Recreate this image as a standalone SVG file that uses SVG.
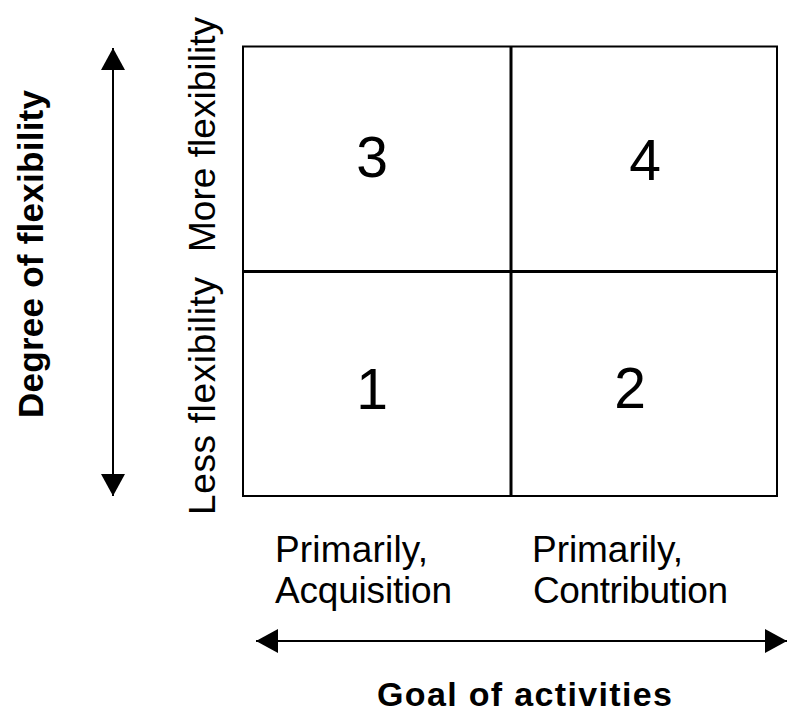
<svg xmlns="http://www.w3.org/2000/svg" width="787" height="715" viewBox="0 0 787 715">
<style>
.lbl{font-family:"Liberation Sans",Arial,sans-serif;fill:#000}
.num{font-size:57px}
.reg{font-size:37px}
.bold{font-weight:bold}
.ln{stroke:#000;fill:none}
</style>
<defs>
<marker id="ah" viewBox="0 0 22 24" refX="22" refY="12" markerWidth="22" markerHeight="24" markerUnits="userSpaceOnUse" orient="auto">
<path d="M0,0 L22,12 L0,24 Z" fill="#000"/>
</marker>
</defs>
<rect width="787" height="715" fill="#fff"/>
<g id="grid">
<rect x="243" y="46.5" width="534" height="449.5" class="ln" stroke-width="2"/>
<line x1="511" y1="46" x2="511" y2="496" class="ln" stroke-width="3"/>
<line x1="243" y1="271.5" x2="777" y2="271.5" class="ln" stroke-width="3"/>
</g>
<g id="q3"><text x="372" y="177" class="lbl num" text-anchor="middle">3</text></g>
<g id="q4"><text x="645" y="180" class="lbl num" text-anchor="middle">4</text></g>
<g id="q1"><text x="372" y="409" class="lbl num" text-anchor="middle">1</text></g>
<g id="q2"><text x="630" y="408" class="lbl num" text-anchor="middle">2</text></g>
<g id="connectors">
<line x1="113" y1="272" x2="113" y2="48" class="ln" stroke-width="2" marker-end="url(#ah)"/>
<line x1="113" y1="272" x2="113" y2="496" class="ln" stroke-width="2" marker-end="url(#ah)"/>
<line x1="520" y1="641" x2="256" y2="641" class="ln" stroke-width="2" marker-end="url(#ah)"/>
<line x1="520" y1="641" x2="787" y2="641" class="ln" stroke-width="2" marker-end="url(#ah)"/>
</g>
<g id="labels">
<text class="lbl bold" font-size="35" text-anchor="middle" transform="translate(43,254) rotate(-90)" textLength="328">Degree of flexibility</text>
<text class="lbl reg" text-anchor="middle" transform="translate(215,134.5) rotate(-90)" textLength="235">More flexibility</text>
<text class="lbl reg" text-anchor="middle" transform="translate(215,396) rotate(-90)" textLength="238">Less flexibility</text>
<text x="275" y="562" class="lbl reg" textLength="153">Primarily,</text>
<text x="275" y="603" class="lbl reg" textLength="177">Acquisition</text>
<text x="532" y="562" class="lbl reg" textLength="151">Primarily,</text>
<text x="533" y="603" class="lbl reg" textLength="195">Contribution</text>
<text x="377" y="706" class="lbl bold" font-size="34" textLength="295">Goal of activities</text>
</g>
</svg>
